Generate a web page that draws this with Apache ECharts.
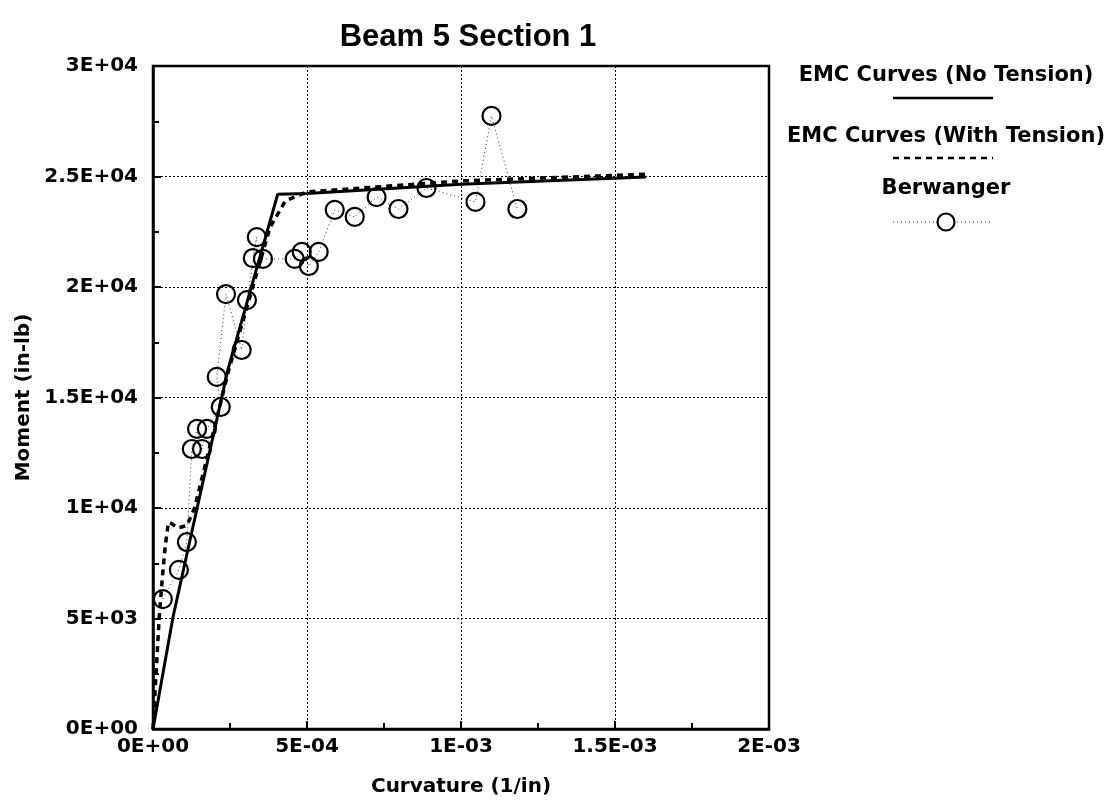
<!DOCTYPE html>
<html>
<head>
<meta charset="utf-8">
<script src="https://cdn.jsdelivr.net/npm/echarts@6/dist/echarts.min.js"></script>
<style>
  html, body { margin: 0; padding: 0; background: #fff; }
  #chart { width: 1111px; height: 804px; }
</style>
</head>
<body>
<div id="chart"></div>
<script>
// Moment-curvature data for beam 5, section 1
const noTensionCurve = [
  [0, 0], [6.5e-5, 5070], [1.13e-4, 8100], [2.43e-4, 16250],
  [4.05e-4, 24200], [5.0e-4, 24230], [1.0e-3, 24650], [1.6e-3, 24980]
];
const withTensionCurve = [
  [0, 0], [1e-5, 2500], [2e-5, 5000], [3e-5, 6800], [4e-5, 8300],
  [5e-5, 9350], [6e-5, 9300], [8e-5, 9100], [1.1e-4, 9200], [1.35e-4, 10000],
  [2.45e-4, 16200], [3.8e-4, 22700], [4.3e-4, 23900], [5.0e-4, 24300],
  [1.0e-3, 24800], [1.6e-3, 25100]
];
const berwangerCurvature = [
  3.2e-5, 8.4e-5, 1.1e-4, 1.26e-4, 1.43e-4, 1.59e-4, 1.75e-4, 2.2e-4,
  2.07e-4, 2.37e-4, 2.88e-4, 3.05e-4, 3.37e-4, 3.24e-4, 3.57e-4, 4.6e-4,
  4.83e-4, 5.06e-4, 5.38e-4, 5.9e-4, 6.55e-4, 7.26e-4, 7.97e-4, 8.88e-4,
  1.047e-3, 1.099e-3, 1.183e-3
];
const berwangerMoment = [
  5880, 7200, 8460, 12670, 13580, 12670, 13580, 14570,
  15930, 19680, 17150, 19410, 22260, 21310, 21270, 21270,
  21590, 20950, 21590, 23490, 23170, 24070, 23530, 24480,
  23850, 27740, 23530
];
const xTickLabels = ['0E+00', '5E-04', '1E-03', '1.5E-03', '2E-03'];
const yTickLabels = ['0E+00', '5E+03', '1E+04', '1.5E+04', '2E+04', '2.5E+04', '3E+04'];

const X_STEP = 5e-4;
const Y_STEP = 5000;
const FONT = '"DejaVu Sans", sans-serif';
const LEGEND_FONT = 'bold 21px "DejaVu Sans", sans-serif';

const berwanger = berwangerCurvature.map((c, i) => [c, berwangerMoment[i]]);

const chart = echarts.init(document.getElementById('chart'), null, { renderer: 'canvas' });

const axisCommon = {
  axisLine: { show: true, onZero: false, lineStyle: { color: '#000', width: 2.5 } },
  axisTick: { show: true, inside: true, length: 8, lineStyle: { color: '#000', width: 2 } },
  minorTick: { show: true, splitNumber: 2, length: 6, lineStyle: { color: '#000', width: 2 } },
  splitLine: { show: true, lineStyle: { color: '#000', width: 1, type: [2, 2] } },
  nameTextStyle: { color: '#000', fontFamily: FONT, fontWeight: 'bold', fontSize: 20 }
};

chart.setOption({
  animation: false,
  backgroundColor: '#fff',
  title: {
    text: 'Beam 5 Section 1',
    left: 463, top: 17, textAlign: 'center',
    textStyle: { color: '#000', fontFamily: '"Liberation Sans", Arial, sans-serif', fontWeight: 'bold', fontSize: 31 }
  },
  grid: {
    left: 153, right: 342, top: 66, bottom: 75,
    show: true, borderColor: '#000', borderWidth: 2.5, containLabel: false
  },
  xAxis: Object.assign({}, axisCommon, {
    type: 'value', min: 0, max: 2e-3, interval: X_STEP,
    name: 'Curvature (1/in)', nameLocation: 'middle', nameGap: 48,
    axisLabel: {
      color: '#000', fontFamily: FONT, fontWeight: 'bold', fontSize: 20, margin: 8,
      formatter: v => xTickLabels[Math.round(v / X_STEP)]
    }
  }),
  yAxis: Object.assign({}, axisCommon, {
    type: 'value', min: 0, max: 30000, interval: Y_STEP,
    name: 'Moment (in-lb)', nameLocation: 'middle', nameGap: 114, nameRotate: 90,
    axisLabel: {
      color: '#000', fontFamily: FONT, fontWeight: 'bold', fontSize: 20, margin: 15,
      formatter: v => yTickLabels[Math.round(v / Y_STEP)]
    }
  }),
  series: [
    {
      name: 'Berwanger', type: 'line', data: berwanger,
      symbol: 'circle', symbolSize: 18,
      itemStyle: { color: 'rgba(255,255,255,0)', borderColor: '#000', borderWidth: 2.2 },
      lineStyle: { color: '#333', width: 1, type: [1, 3] },
      z: 3
    },
    {
      name: 'EMC Curves (No Tension)', type: 'line', data: noTensionCurve,
      symbol: 'none', lineStyle: { color: '#000', width: 3 }, z: 4
    },
    {
      name: 'EMC Curves (With Tension)', type: 'line', data: withTensionCurve,
      symbol: 'none', lineStyle: { color: '#000', width: 3.5, type: [6, 5] }, z: 4
    }
  ],
  graphic: [
    { type: 'text', x: 946, y: 76, style: { text: 'EMC Curves (No Tension)', fill: '#000', font: LEGEND_FONT, align: 'center', verticalAlign: 'middle' } },
    { type: 'line', shape: { x1: 893, y1: 98, x2: 993, y2: 98 }, style: { stroke: '#000', lineWidth: 2.5 } },
    { type: 'text', x: 946, y: 137, style: { text: 'EMC Curves (With Tension)', fill: '#000', font: LEGEND_FONT, align: 'center', verticalAlign: 'middle' } },
    { type: 'line', shape: { x1: 893, y1: 158, x2: 993, y2: 158 }, style: { stroke: '#000', lineWidth: 2.5, lineDash: [6, 5] } },
    { type: 'text', x: 946, y: 189, style: { text: 'Berwanger', fill: '#000', font: LEGEND_FONT, align: 'center', verticalAlign: 'middle' } },
    { type: 'line', shape: { x1: 893, y1: 222, x2: 990, y2: 222 }, style: { stroke: '#333', lineWidth: 1, lineDash: [1, 3] } },
    { type: 'circle', shape: { cx: 946, cy: 222, r: 8.5 }, style: { fill: '#fff', stroke: '#000', lineWidth: 2.2 } }
  ]
});
</script>
</body>
</html>
